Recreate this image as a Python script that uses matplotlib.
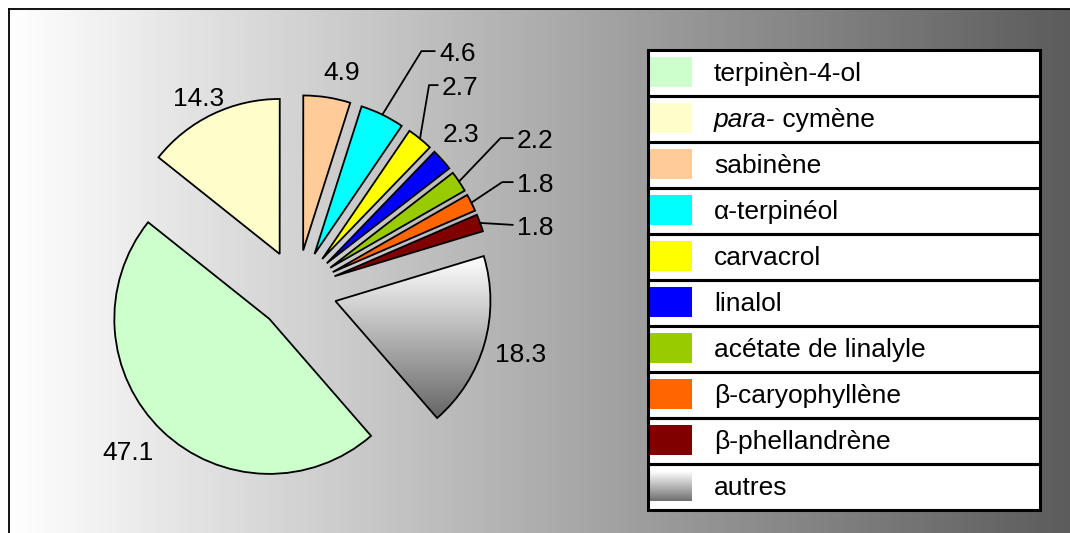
import numpy as np
import matplotlib
matplotlib.use("Agg")
import matplotlib.pyplot as plt
from matplotlib.patches import Rectangle
from matplotlib.colors import LinearSegmentedColormap

# Composition of the essential oil (%)
labels = ["terpinèn-4-ol", "para-cymène", "sabinène", "α-terpinéol", "carvacrol",
          "linalol", "acétate de linalyle", "β-caryophyllène", "β-phellandrène", "autres"]
values = [47.1, 14.3, 4.9, 4.6, 2.7, 2.3, 2.2, 1.8, 1.8, 18.3]
colors = ["#CCFFCC", "#FFFFCC", "#FFCC99", "#00FFFF", "#FFFF00",
          "#0000FF", "#99CC00", "#FF6600", "#800000", "#FFFFFF"]

W, H = 1070, 533
FONT = "Liberation Sans"
FS = 19

fig = plt.figure(figsize=(W / 100, H / 100), dpi=100)
fig.patch.set_facecolor("white")

# --- background layer (pixel coordinates, y downwards) ---
bg = fig.add_axes([0, 0, 1, 1], zorder=0)
bg_cmap = LinearSegmentedColormap.from_list("bg", ["#ffffff", "#5c5c5c"])
bg.imshow(np.linspace(0, 1, 512)[None, :], cmap=bg_cmap, extent=(9, W, H, 9),
          aspect="auto", interpolation="bilinear")
bg.plot([9, 9], [H, 9], color="black", lw=1.3)
bg.plot([9, W], [9, 9], color="black", lw=1.3)
bg.set_xlim(0, W)
bg.set_ylim(H, 0)
bg.axis("off")

# --- pie layer (units of one radius, y upwards) ---
R_PX = 155.0
CX, CY = 297.0, 290.0
pie_ax = fig.add_axes([0, 0, 1, 1], zorder=1)
pie_ax.patch.set_visible(False)
explode = [0.258] * len(values)
wedges, _ = pie_ax.pie(values, colors=colors, startangle=311, counterclock=False,
                       explode=explode, radius=1.0, frame=True,
                       wedgeprops=dict(edgecolor="black", linewidth=1.3))
pie_ax.set_xlim(-CX / R_PX, (W - CX) / R_PX)
pie_ax.set_ylim(-(H - CY) / R_PX, CY / R_PX)
pie_ax.set_aspect("equal")
pie_ax.axis("off")

# vertical grey shading for the "autres" wedge
w_last = wedges[-1]
w_last.set_facecolor("none")
w_last.set_zorder(3)
th = np.radians(np.linspace(w_last.theta1, w_last.theta2, 100))
px = np.concatenate([[w_last.center[0]], w_last.center[0] + w_last.r * np.cos(th)])
py = np.concatenate([[w_last.center[1]], w_last.center[1] + w_last.r * np.sin(th)])
shade = LinearSegmentedColormap.from_list("shade", ["#ffffff", "#666666"])
im = pie_ax.imshow(np.linspace(0, 1, 256)[:, None], cmap=shade, origin="upper",
                   extent=(px.min(), px.max(), py.min(), py.max()),
                   aspect="auto", interpolation="bilinear", zorder=2)
im.set_clip_path(w_last)
pie_ax.set_xlim(-CX / R_PX, (W - CX) / R_PX)
pie_ax.set_ylim(-(H - CY) / R_PX, CY / R_PX)
pie_ax.set_aspect("equal")

# --- overlay layer: value labels and legend (pixel coordinates, y downwards) ---
ov = fig.add_axes([0, 0, 1, 1], zorder=2)
ov.patch.set_visible(False)
ov.set_xlim(0, W)
ov.set_ylim(H, 0)
ov.axis("off")

label_pos = [(102, 460), (173, 106), (323, 80), (439, 61), (442, 95),
             (443, 142), (517, 148), (517, 192), (517, 235), (495, 362)]
leader_angle = [None, None, None, 58.4, 80.4, None, 46.3, 33.7, "straight", None]

for w, v, (tx, ty), ang in zip(wedges, values, label_pos, leader_angle):
    txt = f"{v:.1f}"
    if ang is None:
        ov.text(tx, ty, txt, ha="left", va="baseline", fontsize=FS, family=FONT)
        continue
    mid = np.radians(0.5 * (w.theta1 + w.theta2))
    arc_pt = (w.center[0] + w.r * np.cos(mid), w.center[1] + w.r * np.sin(mid))
    if ang == "straight":
        cs = "arc3,rad=0"
    else:
        cs = f"angle,angleA=0,angleB={ang},rad=0"
    ov.annotate(txt, xy=arc_pt, xycoords=pie_ax.transData, xytext=(tx, ty),
                textcoords="data", ha="left", va="baseline", fontsize=FS, family=FONT,
                arrowprops=dict(arrowstyle="-", connectionstyle=cs, color="black",
                                lw=1.3, shrinkA=1, shrinkB=0, relpos=(0, 0.62)))

# legend: one framed row per component
LX0, LX1 = 648, 1040
LY0, ROW = 50, 46
for i, (lab, col) in enumerate(zip(labels, colors)):
    top = LY0 + i * ROW
    ov.add_patch(Rectangle((LX0, top), LX1 - LX0, ROW, facecolor="white",
                           edgecolor="none", zorder=1))
    if i == len(labels) - 1:
        ov.imshow(np.linspace(0, 1, 64)[:, None],
                  cmap=LinearSegmentedColormap.from_list("sw", ["#ffffff", "#707070"]),
                  origin="upper", extent=(LX0 + 1, LX0 + 44, top + 37, top + 7),
                  aspect="auto", interpolation="bilinear", zorder=2)
    else:
        ov.add_patch(Rectangle((LX0 + 1, top + 7), 43, 30, facecolor=col,
                               edgecolor="none", zorder=2))
    ov.add_patch(Rectangle((LX0, top), LX1 - LX0, ROW, facecolor="none",
                           edgecolor="black", lw=2.2, zorder=3))
    if lab.startswith("para-"):
        t1 = ov.text(714, top + 31, "para-", ha="left", va="baseline", fontsize=FS,
                     family=FONT, style="italic", zorder=4)
        ov.annotate(" cymène", xy=(1, 0), xycoords=t1, ha="left", va="bottom",
                    fontsize=FS, family=FONT, zorder=4)
    else:
        ov.text(714, top + 31, lab, ha="left", va="baseline", fontsize=FS,
                family=FONT, zorder=4)

ov.set_xlim(0, W)
ov.set_ylim(H, 0)

fig.savefig("out.png", dpi=100)
